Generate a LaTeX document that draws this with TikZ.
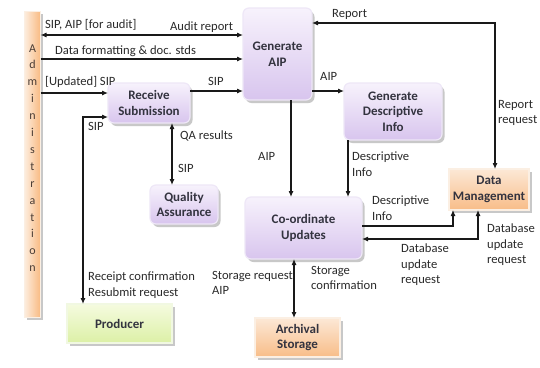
\documentclass[tikz,border=0pt]{standalone}
\usepackage{fontspec}
\setmainfont{Carlito}
\usetikzlibrary{arrows.meta,shadows}

\definecolor{lavtop}{HTML}{F7F2FC}
\definecolor{lavbot}{HTML}{D8C5EE}
\definecolor{lavedge}{HTML}{EEE7F7}
\definecolor{peachtop}{HTML}{FCE8D6}
\definecolor{peachbot}{HTML}{F8BD88}
\definecolor{peachedge}{HTML}{FBEFE3}
\definecolor{greentop}{HTML}{F5FBDF}
\definecolor{greenbot}{HTML}{DCF0A6}
\definecolor{greenedge}{HTML}{F1F8E2}
\definecolor{boxtext}{HTML}{33333F}
\definecolor{labeltext}{HTML}{2A2A2A}
\definecolor{admintext}{HTML}{4A3C34}

\tikzset{
  procbox/.style={rectangle, rounded corners=6pt, draw=lavedge, line width=1.2pt,
    top color=lavtop, bottom color=lavbot, align=center, text=boxtext,
    font=\fontsize{13}{15.5}\selectfont\bfseries, inner sep=2pt, outer sep=0pt,
    drop shadow={shadow xshift=2.5pt, shadow yshift=-3pt, opacity=0.3, fill=black!70}},
  storebox/.style={rectangle, draw=peachedge, line width=1.2pt,
    top color=peachtop, bottom color=peachbot, align=center, text=boxtext,
    font=\fontsize{13}{15.5}\selectfont\bfseries, inner sep=2pt, outer sep=0pt,
    drop shadow={shadow xshift=2.5pt, shadow yshift=-3pt, opacity=0.3, fill=black!70}},
  extbox/.style={rectangle, draw=greenedge, line width=1.2pt,
    top color=greentop, bottom color=greenbot, align=center, text=boxtext,
    font=\fontsize{13}{15.5}\selectfont\bfseries, inner sep=2pt, outer sep=0pt,
    drop shadow={shadow xshift=2.5pt, shadow yshift=-3pt, opacity=0.3, fill=black!70}},
  flowlabel/.style={inner sep=0pt, anchor=north west, align=left, text=labeltext,
    font=\fontsize{12.6}{15.5}\selectfont},
  flow/.style={line width=1.1pt, draw=black!90, -{Latex[length=6pt,width=5pt]}},
  dflow/.style={line width=1.1pt, draw=black!90, {Latex[length=6pt,width=5pt]}-{Latex[length=6pt,width=5pt]}}
}

\begin{document}
\begin{tikzpicture}[x=1pt,y=-1pt]
  \useasboundingbox[fill=white] (0,0) rectangle (540,367);

  % Administration bar
  \node[rectangle, minimum width=16pt, minimum height=306pt, inner sep=0pt, outer sep=0pt,
        left color=peachtop!80!white, right color=peachbot!95!orange, draw=peachedge, line width=0.8pt,
        drop shadow={shadow xshift=2.5pt, shadow yshift=-3pt, opacity=0.3, fill=black!70}]
        (admin) at (32.5,164) {};
  \node[inner sep=0pt, align=center, text=admintext, font=\fontsize{12}{16.9}\selectfont]
        (adminlabel) at (32.5,158) {A\\d\\m\\i\\n\\i\\s\\t\\r\\a\\t\\i\\o\\n};

  % Processes and stores
  \node[procbox, minimum width=69pt, minimum height=92pt] (genaip) at (277.5,54) {Generate\\AIP};
  \node[procbox, minimum width=82pt, minimum height=40pt] (recv) at (149,103) {Receive\\Submission};
  \node[procbox, minimum width=68pt, minimum height=39pt] (qa) at (184,204.5) {Quality\\Assurance};
  \node[procbox, minimum width=98pt, minimum height=57pt] (gdi) at (393,111.5) {Generate\\Descriptive\\Info};
  \node[procbox, minimum width=117pt, minimum height=62pt] (coord) at (303.5,228) {Co-ordinate\\Updates};
  \node[storebox, minimum width=80pt, minimum height=41pt] (dm) at (489,189.5) {Data\\Management};
  \node[storebox, minimum width=85pt, minimum height=39pt] (arch) at (297.5,337.5) {Archival\\Storage};
  \node[extbox, minimum width=105pt, minimum height=39pt] (prod) at (119.5,323.5) {Producer};

  % Flows from Administration
  \draw[dflow] (admin.east |- 0,35) -- (genaip.west |- 0,35);
  \draw[flow] (admin.east |- 0,59) -- (genaip.west |- 0,59);
  \draw[flow] (admin.east |- 0,93) -- (recv.west |- 0,93);

  % Ingest flows
  \draw[flow] (recv.east |- 0,91) -- (genaip.west |- 0,91);
  \draw[dflow] (recv.west |- 0,117) -| (prod.north -| 83,0);
  \draw[dflow] (recv.south -| 172,0) -- (qa.north -| 172,0);
  \draw[flow] (genaip.east |- 0,91) -- (gdi.west |- 0,91);
  \draw[flow] (genaip.south -| 291,0) -- (coord.north -| 291,0);
  \draw[flow] (gdi.south -| 348,0) -- (coord.north -| 348,0);
  \draw[flow] (coord.east |- 0,226) -| (dm.south -| 453,0);
  \draw[dflow] (coord.east |- 0,239) -| (dm.south -| 478,0);
  \draw[dflow] (genaip.east |- 0,23) -| (dm.north -| 495,0);
  \draw[dflow] (coord.south -| 294,0) -- (arch.north -| 294,0);

  % Flow labels
  \node[flowlabel] (l1) at (45,19) {SIP, AIP [for audit]};
  \node[flowlabel] (l2) at (170,22) {Audit report};
  \node[flowlabel] (l3) at (55,46) {Data formatting \& doc. stds};
  \node[flowlabel] (l4) at (45,76) {[Updated] SIP};
  \node[flowlabel] (l5) at (208,77) {SIP};
  \node[flowlabel] (l6) at (88,122) {SIP};
  \node[flowlabel] (l7) at (180,131) {QA results};
  \node[flowlabel] (l8) at (178,164) {SIP};
  \node[flowlabel] (l9) at (320,72) {AIP};
  \node[flowlabel] (l10) at (258,152) {AIP};
  \node[flowlabel] (l11) at (352,152) {Descriptive\\Info};
  \node[flowlabel] (l12) at (372,196) {Descriptive\\Info};
  \node[flowlabel] (l13) at (401,244) {Database\\update\\request};
  \node[flowlabel] (l14) at (487,224) {Database\\update\\request};
  \node[flowlabel] (l15) at (332,9) {Report};
  \node[flowlabel] (l16) at (498,100) {Report\\request};
  \node[flowlabel] (l17) at (88,272) {Receipt confirmation\\Resubmit request};
  \node[flowlabel] (l18) at (212,271) {Storage request\\AIP};
  \node[flowlabel] (l19) at (311,266) {Storage\\confirmation};
\end{tikzpicture}
\end{document}
